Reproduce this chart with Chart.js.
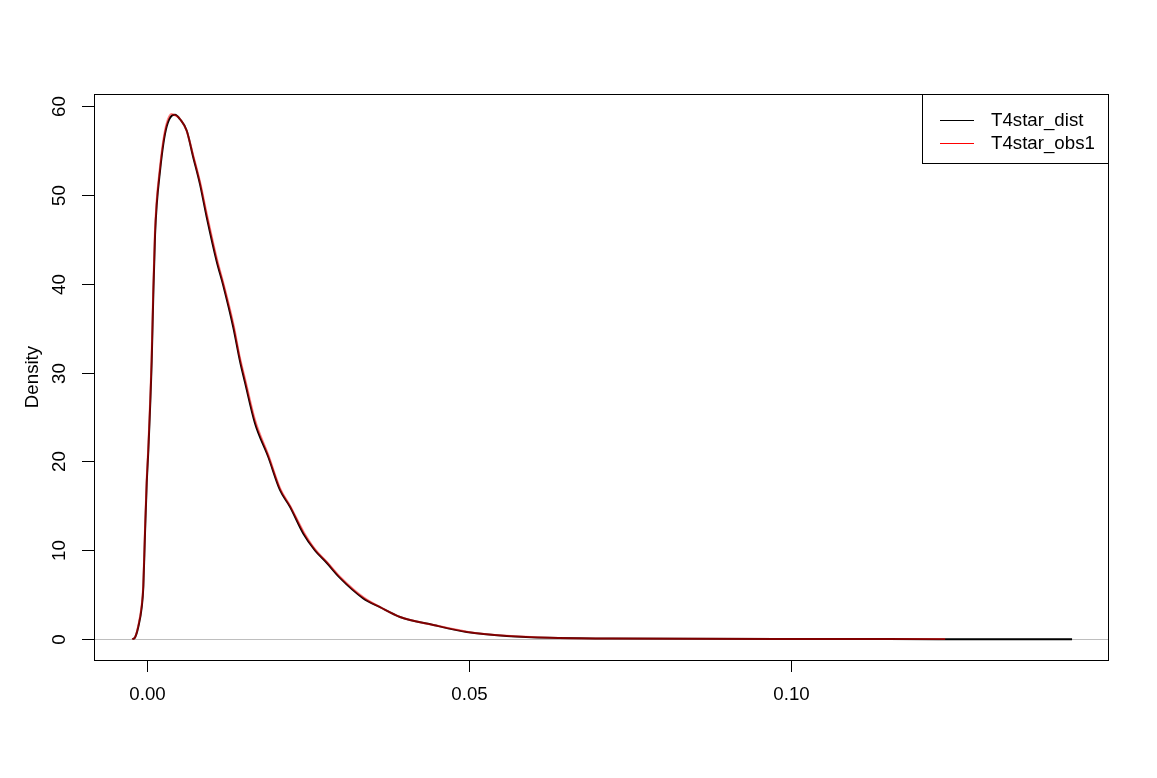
<!DOCTYPE html>
<html>
<head>
<meta charset="utf-8">
<script src="https://cdn.jsdelivr.net/npm/chart.js@4"></script>
<style>
  html, body { margin: 0; padding: 0; background: #fff; }
  canvas { display: block; }
</style>
</head>
<body>
<canvas id="densityChart" width="1157" height="778"></canvas>
<script>
// density curves
const distX = [-0.00233, -0.00191, -0.00140, -0.00087, -0.00062, -0.00036, -0.00009, 0.00016, 0.00068, 0.00093,
  0.00120, 0.00146, 0.00197, 0.00248, 0.00301, 0.00379, 0.00430, 0.00508, 0.00612, 0.00714,
  0.00818, 0.00922, 0.01078, 0.01180, 0.01335, 0.01439, 0.01517, 0.01672, 0.01879, 0.02060,
  0.02216, 0.02422, 0.02604, 0.02786, 0.02992, 0.03354, 0.03613, 0.03924, 0.04441, 0.04960,
  0.05580, 0.06250, 0.07230, 0.08500, 0.10000, 0.11500, 0.13000, 0.14360];
const distY = [0, 0.2, 1.4, 3.6, 5.9, 11.9, 17.6, 21.3, 31.3, 38.8,
  45.5, 48.9, 52.7, 55.7, 57.7, 58.9, 59.0, 58.5, 57.2, 54.2,
  51.2, 47.5, 42.5, 39.8, 35.1, 31.3, 28.9, 24.3, 20.5, 16.8,
  14.9, 11.9, 10.0, 8.6, 6.9, 4.6, 3.6, 2.5, 1.6, 0.82,
  0.37, 0.15, 0.08, 0.04, 0.02, 0.01, 0.005, 0.003];

const obsX = [-0.00235, -0.00192, -0.00141, -0.00088, -0.00063, -0.00037, -0.00010, 0.00015, 0.00066, 0.00091,
  0.00118, 0.00144, 0.00195, 0.00246, 0.00299, 0.00372, 0.00415, 0.00500, 0.00606, 0.00714,
  0.00820, 0.00925, 0.01080, 0.01183, 0.01338, 0.01440, 0.01520, 0.01675, 0.01880, 0.02060,
  0.02218, 0.02425, 0.02606, 0.02788, 0.02995, 0.03356, 0.03615, 0.03926, 0.04443, 0.04962,
  0.05582, 0.06252, 0.07232, 0.08500, 0.10000, 0.11500, 0.12390];
const obsY = [0, 0.2, 1.5, 3.8, 6.1, 12.2, 17.9, 21.6, 31.6, 39.1,
  45.8, 49.2, 53.0, 56.0, 58.0, 59.1, 59.0, 58.6, 57.3, 54.4,
  51.4, 47.8, 42.8, 40.0, 35.4, 31.6, 29.2, 24.6, 20.7, 17.0,
  15.0, 12.1, 10.1, 8.7, 7.0, 4.7, 3.6, 2.5, 1.6, 0.85,
  0.38, 0.16, 0.08, 0.04, 0.02, 0.01, 0.01];

const xTicks = [0, 0.05, 0.10];
const xTickLabels = ['0.00', '0.05', '0.10'];
const yTicks = [0, 10, 20, 30, 40, 50, 60];
const seriesNames = ['T4star_dist', 'T4star_obs1'];
const seriesColors = ['#000000', '#ff0000'];

const FONT = '18.7px "Liberation Sans", Arial, sans-serif';

function toPoints(xs, ys) {
  return xs.map((x, i) => ({ x: x, y: ys[i] }));
}

// R style box, axes, labels and legend
const rFrame = {
  id: 'rFrame',
  beforeDatasetsDraw(chart) {
    const { ctx, chartArea: a, scales: { y } } = chart;
    const y0 = Math.round(y.getPixelForValue(0)) + 0.5;
    ctx.save();
    ctx.strokeStyle = '#bebebe';
    ctx.lineWidth = 1;
    ctx.beginPath();
    ctx.moveTo(a.left, y0);
    ctx.lineTo(a.right, y0);
    ctx.stroke();
    ctx.restore();
  },
  afterDraw(chart) {
    const { ctx, chartArea: a, scales: { x, y } } = chart;
    ctx.save();
    ctx.strokeStyle = '#000';
    ctx.fillStyle = '#000';
    ctx.lineWidth = 1;
    ctx.strokeRect(a.left + 0.5, a.top + 0.5, a.right - a.left, a.bottom - a.top);

    ctx.font = FONT;
    // x axis
    ctx.textAlign = 'center';
    ctx.textBaseline = 'middle';
    xTicks.forEach((v, i) => {
      const px = Math.round(x.getPixelForValue(v)) + 0.5;
      ctx.beginPath();
      ctx.moveTo(px, a.bottom);
      ctx.lineTo(px, a.bottom + 12);
      ctx.stroke();
      ctx.fillText(xTickLabels[i], px, a.bottom + 35);
    });

    // y axis
    yTicks.forEach(v => {
      const py = Math.round(y.getPixelForValue(v)) + 0.5;
      ctx.beginPath();
      ctx.moveTo(a.left, py);
      ctx.lineTo(a.left - 12, py);
      ctx.stroke();
      ctx.save();
      ctx.translate(a.left - 34, py);
      ctx.rotate(-Math.PI / 2);
      ctx.fillText(String(v), 0, 0);
      ctx.restore();
    });

    ctx.save();
    ctx.translate(a.left - 61, (a.top + a.bottom) / 2);
    ctx.rotate(-Math.PI / 2);
    ctx.fillText('Density', 0, 0);
    ctx.restore();

    // legend, top right
    const lx = 922, ly = a.top;
    ctx.strokeRect(lx + 0.5, ly + 0.5, a.right - lx, 69);
    ctx.textAlign = 'left';
    seriesNames.forEach((name, i) => {
      const ry = ly + 26 + i * 23;
      ctx.fillStyle = seriesColors[i];
      ctx.fillRect(lx + 18, ry, 34, 1);
      ctx.fillStyle = '#000';
      ctx.fillText(name, lx + 69, ry + 1);
    });
    ctx.restore();
  }
};

new Chart(document.getElementById('densityChart'), {
  type: 'line',
  data: {
    datasets: [
      {
        label: seriesNames[0],
        data: toPoints(distX, distY),
        borderColor: '#000000',
        borderWidth: 2,
        pointRadius: 0,
        cubicInterpolationMode: 'monotone',
        order: 2
      },
      {
        label: seriesNames[1],
        data: toPoints(obsX, obsY),
        borderColor: 'rgba(255, 0, 0, 0.5)',
        borderWidth: 2,
        pointRadius: 0,
        cubicInterpolationMode: 'monotone',
        order: 1
      }
    ]
  },
  options: {
    responsive: false,
    animation: false,
    devicePixelRatio: 1,
    layout: { padding: { left: 94, top: 94, right: 49, bottom: 118 } },
    scales: {
      x: { type: 'linear', min: -0.00828, max: 0.14918, display: false },
      y: { type: 'linear', min: -2.34, max: 61.34, display: false }
    },
    plugins: {
      legend: { display: false },
      tooltip: { enabled: false }
    }
  },
  plugins: [rFrame]
});
</script>
</body>
</html>
